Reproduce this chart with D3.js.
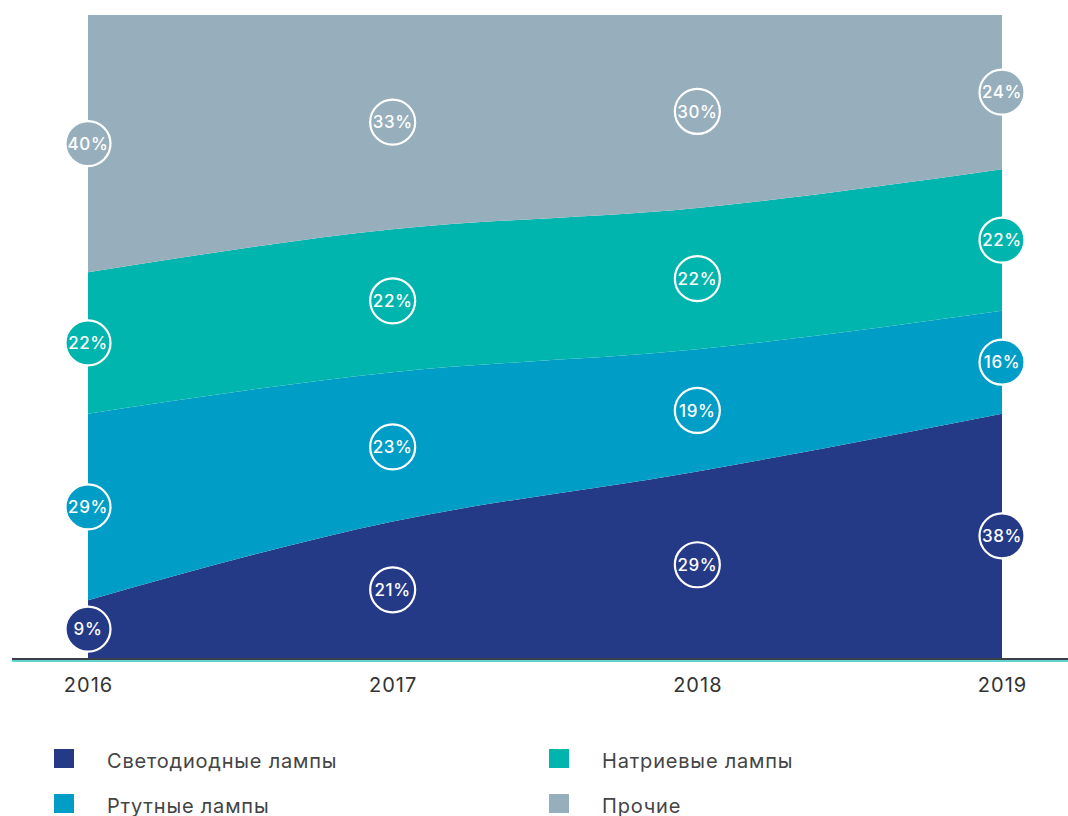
<!DOCTYPE html>
<html><head><meta charset="utf-8">
<script src="https://cdn.jsdelivr.net/npm/d3@7/dist/d3.min.js"></script>
<style>
html,body{margin:0;padding:0;background:#fff;}
svg{display:block;font-family:Inter,"Open Sans",sans-serif;}
</style></head>
<body><svg id="c" width="1068" height="816"></svg>
<script>
const years = ["2016","2017","2018","2019"];
const seriesNames = ["Светодиодные лампы","Ртутные лампы","Натриевые лампы","Прочие"];
const ledValues = [9,21,29,38];
const mercuryValues = [29,23,19,16];
const sodiumValues = [22,22,22,22];
const otherValues = [40,33,30,24];
const colors = ["#253a87","#009ec6","#00b5ad","#97afbc"];

const seriesValues = [ledValues, mercuryValues, sodiumValues, otherValues];
const table = years.map((y,i)=>{
  const o = {year:y};
  seriesNames.forEach((n,k)=>o[n]=seriesValues[k][i]);
  return o;
});

const svg = d3.select("#c");
const x = d3.scalePoint().domain(years).range([88,1002]);
const y = d3.scaleLinear().domain([0,1]).range([658,15]);

const stack = d3.stack().keys(seriesNames).offset(d3.stackOffsetExpand);
const stacked = stack(table);

const area = d3.area()
  .x(d=>x(d.data.year))
  .y0(d=>y(d[0]))
  .y1(d=>y(d[1]))
  .curve(d3.curveMonotoneX);

svg.append("g").selectAll("path").data(stacked).join("path")
  .attr("d",area).attr("fill",(d,i)=>colors[i]);

// baseline
svg.append("line").attr("x1",12).attr("x2",1068).attr("y1",659).attr("y2",659)
  .attr("stroke","#3a3f4a").attr("stroke-width",2);
svg.append("line").attr("x1",12).attr("x2",1068).attr("y1",661).attr("y2",661)
  .attr("stroke","#2cc5bd").attr("stroke-width",1.5);

// labels
const lg = svg.append("g");
stacked.forEach((s,k)=>{
  s.forEach((d,i)=>{
    const cx = x(d.data.year), cy = y((d[0]+d[1])/2);
    lg.append("circle").attr("cx",cx).attr("cy",cy).attr("r",22.5)
      .attr("fill",colors[k]).attr("stroke","#fff").attr("stroke-width",2.2);
    lg.append("text").attr("x",cx).attr("y",cy).attr("dy","0.36em")
      .attr("text-anchor","middle").attr("fill","#fff")
      .attr("font-size",17).attr("font-weight",500).attr("letter-spacing",0.6)
      .text(seriesValues[k][i]+"%");
  });
});

// x axis labels
const xAxis = d3.axisBottom(x).tickSize(0).tickPadding(0);
const ax = svg.append("g").attr("transform","translate(0,678)").call(xAxis);
ax.select(".domain").remove();
ax.selectAll("text").attr("font-size",20).attr("fill","#333").attr("letter-spacing",1)
  .attr("font-family","Inter,'Open Sans',sans-serif").attr("dy","0.71em");

// legend
const legendPos = [[54,749],[54,794],[549,749],[549,794]];
const lgd = svg.append("g");
seriesNames.forEach((n,k)=>{
  const [lx,ly] = legendPos[k];
  lgd.append("rect").attr("x",lx).attr("y",ly).attr("width",20).attr("height",19).attr("fill",colors[k]);
  lgd.append("text").attr("x",lx+53).attr("y",ly+11.5).attr("dy","0.35em")
    .attr("font-size",20).attr("letter-spacing",0.8).attr("fill","#444").text(n);
});
</script></body></html>
